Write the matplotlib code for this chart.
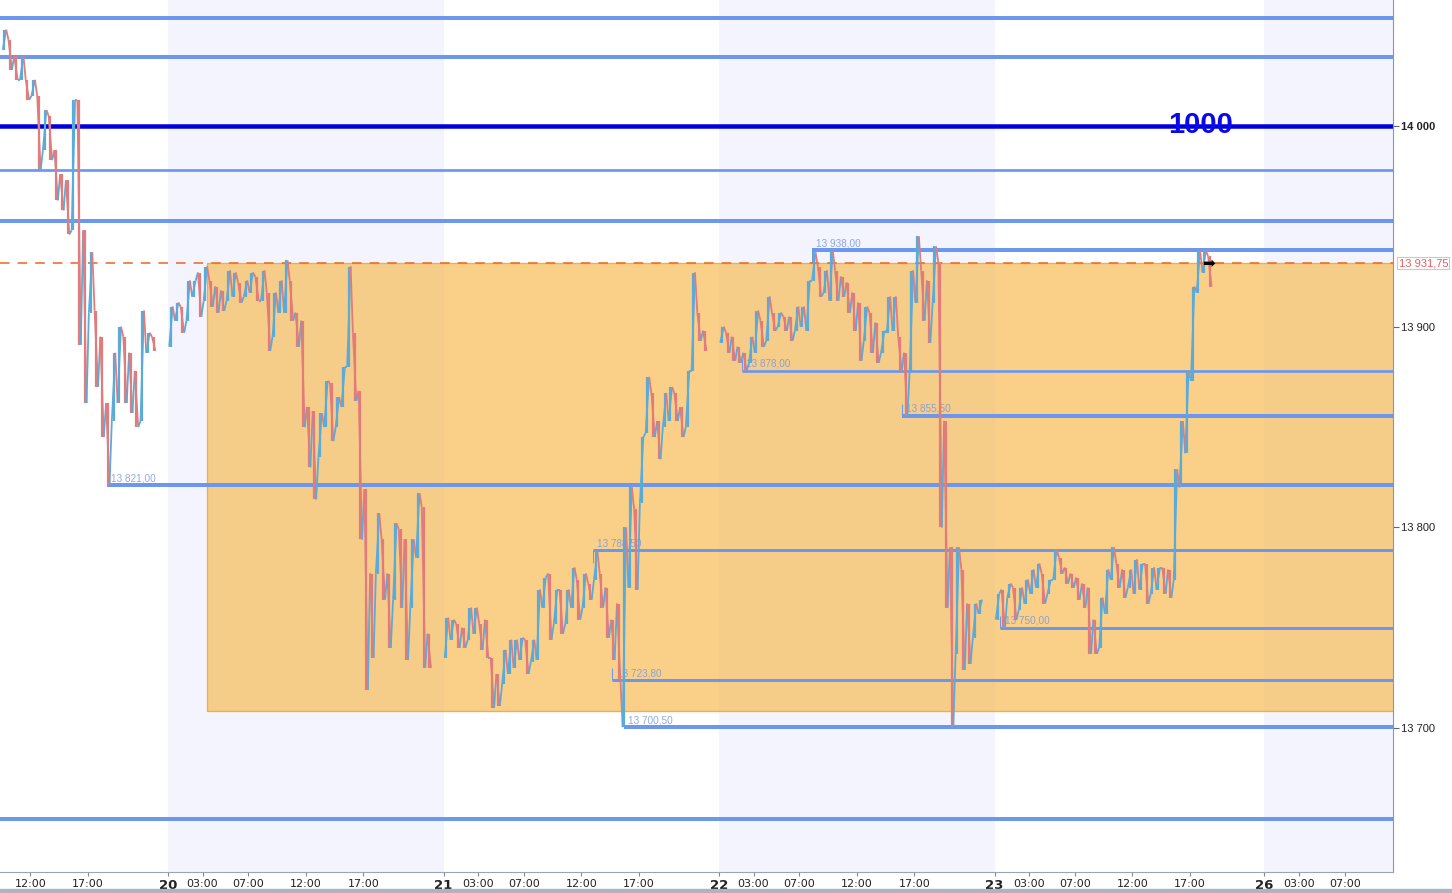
import matplotlib
matplotlib.use("Agg")
import matplotlib.pyplot as plt
from matplotlib.patches import Rectangle
from matplotlib.collections import LineCollection

# half-hour bars: start hour of each session (hours from the 19th, 00:00)
session_start = [9.5, 24.0, 48.0, 72.0, 96.0]

d19_hi = [14048, 14043, 14035, 14035, 14023, 14023, 14015, 14008, 14005, 13988, 13976, 13973, 14013, 14013,
          13948, 13937, 13908, 13895, 13862, 13887, 13900, 13895, 13887, 13878, 13908, 13897, 13895]
d19_lo = [14038, 14028, 14023, 14023, 14013, 14015, 13978, 13988, 13983, 13963, 13958, 13946, 13948, 13891,
          13862, 13907, 13870, 13845, 13821, 13853, 13862, 13862, 13857, 13850, 13853, 13887, 13888]

d20_hi = [13910, 13912, 13910, 13923, 13923, 13927, 13930, 13923, 13920, 13918, 13928, 13927, 13922, 13923,
          13927, 13925, 13928, 13917, 13917, 13923, 13933, 13923, 13907, 13903, 13860, 13858, 13857, 13873,
          13872, 13865, 13880, 13930, 13897, 13868, 13819, 13777, 13807, 13794, 13777, 13802, 13799, 13794,
          13794, 13817, 13810, 13747]
d20_lo = [13890, 13903, 13897, 13903, 13915, 13905, 13913, 13910, 13907, 13908, 13913, 13915, 13912, 13915,
          13917, 13913, 13913, 13888, 13895, 13907, 13907, 13903, 13890, 13850, 13830, 13814, 13835, 13850,
          13843, 13850, 13860, 13880, 13863, 13794, 13719, 13735, 13777, 13764, 13740, 13764, 13760, 13734,
          13760, 13785, 13730, 13730]

d21_hi = [13755, 13754, 13752, 13750, 13760, 13760, 13752, 13754, 13735, 13727, 13739, 13744, 13744, 13745,
          13744, 13744, 13769, 13775, 13777, 13769, 13769, 13769, 13780, 13774, 13777, 13772, 13788, 13777,
          13770, 13754, 13762, 13800, 13820, 13809, 13845, 13875, 13867, 13853, 13867, 13870, 13867, 13860,
          13878, 13927, 13907, 13898]
d21_lo = [13735, 13744, 13740, 13740, 13744, 13747, 13739, 13735, 13710, 13711, 13722, 13727, 13730, 13734,
          13727, 13733, 13734, 13760, 13744, 13752, 13747, 13752, 13760, 13754, 13760, 13764, 13774, 13760,
          13745, 13734, 13724, 13700.5, 13770, 13769, 13812, 13847, 13845, 13834, 13850, 13853, 13853, 13845,
          13850, 13878, 13893, 13888]

d22_hi = [13900, 13897, 13895, 13890, 13887, 13895, 13908, 13903, 13915, 13907, 13907, 13905, 13905, 13910,
          13910, 13923, 13937, 13930, 13928, 13938, 13928, 13925, 13922, 13917, 13912, 13910, 13907, 13902,
          13898, 13915, 13915, 13895, 13887, 13928, 13945, 13928, 13923, 13940, 13932, 13853, 13790, 13790,
          13779, 13762, 13762, 13764]
d22_lo = [13892, 13887, 13883, 13882, 13878, 13882, 13887, 13890, 13893, 13898, 13900, 13898, 13893, 13898,
          13900, 13898, 13923, 13915, 13917, 13913, 13913, 13915, 13907, 13898, 13883, 13893, 13887, 13882,
          13887, 13897, 13898, 13878, 13855.5, 13878, 13912, 13903, 13892, 13912, 13800, 13760, 13700.5, 13737,
          13729, 13732, 13745, 13757]

d23_hi = [13767, 13769, 13772, 13770, 13770, 13774, 13779, 13782, 13777, 13774, 13789, 13785, 13780, 13777,
          13775, 13772, 13770, 13754, 13765, 13779, 13790, 13782, 13779, 13779, 13784, 13782, 13782, 13780,
          13780, 13780, 13779, 13829, 13853, 13878, 13920, 13938, 13938, 13935]
d23_lo = [13754, 13750, 13765, 13754, 13759, 13762, 13767, 13770, 13762, 13767, 13774, 13777, 13772, 13770,
          13764, 13760, 13737, 13737, 13740, 13757, 13774, 13770, 13765, 13770, 13767, 13769, 13762, 13767,
          13769, 13767, 13765, 13774, 13820, 13837, 13873, 13917, 13927, 13920]

highs = [d19_hi, d20_hi, d21_hi, d22_hi, d23_hi]
lows = [d19_lo, d20_lo, d21_lo, d22_lo, d23_lo]

# horizontal levels spanning the whole chart
full_levels = [14053.8, 14034.4, 13978.1, 13952.9, 13654.7]
key_level = 14000.0
key_label = "1000"

# marked levels: price, label, start hour
marked_prices = [13938.0, 13878.0, 13855.5, 13821.0, 13788.5, 13750.0, 13723.8, 13700.5]
marked_labels = ["13 938,00", "13 878,00", "13 855,50", "13 821,00", "13 788,50", "13 750,00", "13 723,80", "13 700,50"]
marked_start = [80.1, 74.0, 87.9, 18.7, 61.0, 96.5, 62.7, 63.7]

last_price = 13931.75
last_label = "13 931,75"
zone_start = 27.4
zone_low = 13708.5

# x axis (weekend removed: the 26th follows the 23rd)
day_pos = [24.0, 48.0, 72.0, 96.0, 119.5]
day_names = ["20", "21", "22", "23", "26"]
hour_names = ["03:00", "07:00", "12:00", "17:00"]
hour_vals = [3, 7, 12, 17]
y_ticks = [13700, 13800, 13900, 14000]
y_names = ["13 700", "13 800", "13 900", "14 000"]

BLUE_UP = "#5aabd8"
RED_DN = "#e27b7b"
LEVEL = "#6b98ee"
SHADE = "#f3f4fd"

W, H = 1452, 893
fig = plt.figure(figsize=(W / 100, H / 100), dpi=100)
ax = fig.add_axes([0, 21 / H, 1393 / W, 872 / H])
xmin, xmax = 9.36, 130.7
ax.set_xlim(xmin, xmax)
ax.set_ylim(13628.3, 14062.8)

px = 0.72  # points per pixel

# alternate day shading
for a, b in [(24, 48), (72, 96), (119.5, xmax)]:
    ax.axvspan(a, b, color=SHADE, lw=0, zorder=0)

# range box
ax.add_patch(Rectangle((zone_start, zone_low), xmax - zone_start + 2, last_price - zone_low,
                       facecolor="#f7b23b", alpha=0.6, edgecolor="none", zorder=1))
ax.add_patch(Rectangle((zone_start, zone_low), xmax - zone_start + 2, last_price - zone_low,
                       facecolor="none", edgecolor="#f5ae3a", lw=1.3 * px, zorder=1.1))

# levels
lw_full = [4, 4, 2.7, 4, 4]
for p, w in zip(full_levels, lw_full):
    ax.axhline(p, color=LEVEL, lw=w * px, zorder=2)
ax.axhline(key_level, color="#0000dd", lw=4.5 * px, zorder=2.2)

lw_marked = [4, 2.7, 4, 4, 3, 3, 3, 4]
for p, lab, s, w in zip(marked_prices, marked_labels, marked_start, lw_marked):
    ax.hlines(p, s, xmax, color=LEVEL, lw=w * px, zorder=2)
    d = -6 if p in (13938.0, 13788.5) else 6
    ax.vlines(s, p, p + d, color=LEVEL, lw=1 * px, zorder=2)
    ax.annotate(lab, (s, p), xytext=(3, 1.5), textcoords="offset points", ha="left", va="bottom",
                fontsize=7.2, color="#7a9ade", alpha=0.85, zorder=3, family="Liberation Sans")

# price bars: high/low strokes plus a jagged trace, blue up and red down
prev_mid = None
for start, hi, lo in zip(session_start, highs, lows):
    pts, bx, bcol = [], [], []
    for i, (h, l) in enumerate(zip(hi, lo)):
        mid = (h + l) / 2
        up = prev_mid is None or mid >= prev_mid
        prev_mid = mid
        t = start + 0.5 * i
        bx.append(t + 0.25)
        bcol.append(BLUE_UP if up else RED_DN)
        if up:
            pts += [(t + 0.1, l), (t + 0.4, h)]
        else:
            pts += [(t + 0.1, h), (t + 0.4, l)]
    ax.vlines(bx, lo, hi, colors=bcol, lw=2.2 * px, zorder=4)
    segs = [[pts[k], pts[k + 1]] for k in range(len(pts) - 1)]
    cols = [BLUE_UP if b[1] >= a[1] else RED_DN for a, b in segs]
    ax.add_collection(LineCollection(segs, colors=cols, linewidths=1.8 * px, zorder=4.1))

# last price dashed line + tag
ax.axhline(last_price, color="#f06a2a", lw=1.6 * px, dashes=(6, 5), zorder=3.5)
ax.text(114.1, last_price, "\u27a1", fontsize=11, color="black", ha="left", va="center",
        family="DejaVu Sans", zorder=6)
ax.text(1.004, last_price, last_label, transform=ax.get_yaxis_transform(), fontsize=8,
        color="#e06060", ha="left", va="center", family="Liberation Sans", clip_on=False,
        bbox=dict(boxstyle="square,pad=0.12", fc="white", ec="#c9c9c9", lw=0.8))

ax.text(113.9, 13996.5, key_label, fontsize=21, fontweight="bold", color="#0a0ae6",
        ha="center", va="baseline", family="Liberation Sans", zorder=5)

# axes styling
for side in ["top", "left"]:
    ax.spines[side].set_visible(False)
ax.spines["right"].set_color("#8a97a5")
ax.spines["bottom"].set_color("#9aa5b0")
ax.yaxis.tick_right()
ax.set_yticks(y_ticks, y_names)
ax.tick_params(axis="y", length=4, width=0.8, color="#666666", pad=2, labelsize=8, labelcolor="#222222")
for t in ax.get_yticklabels():
    t.set_family("Liberation Sans")
    if t.get_text() == "14 000":
        t.set_fontweight("bold")

xt, xl = [12.0, 17.0], ["12:00", "17:00"]
for pos, name in zip(day_pos, day_names):
    xt.append(pos)
    xl.append(name)
    for hv, hn in zip(hour_vals, hour_names):
        if name == "26" and hv > 7:
            continue
        xt.append(pos + hv)
        xl.append(hn)
ax.set_xticks(xt, xl)
ax.tick_params(axis="x", length=3, width=0.8, color="#888888", pad=2, labelsize=8, labelcolor="#222222")
for t in ax.get_xticklabels():
    t.set_family(["Liberation Sans Narrow", "DejaVu Sans"])
    if ":" not in t.get_text():
        t.set_fontweight("bold")
        t.set_fontsize(9.5)

fig.patches.append(Rectangle((0, 0), 1, 4 / H, transform=fig.transFigure, color="#a9b6c2", zorder=0))

fig.savefig("out.png", dpi=100)
